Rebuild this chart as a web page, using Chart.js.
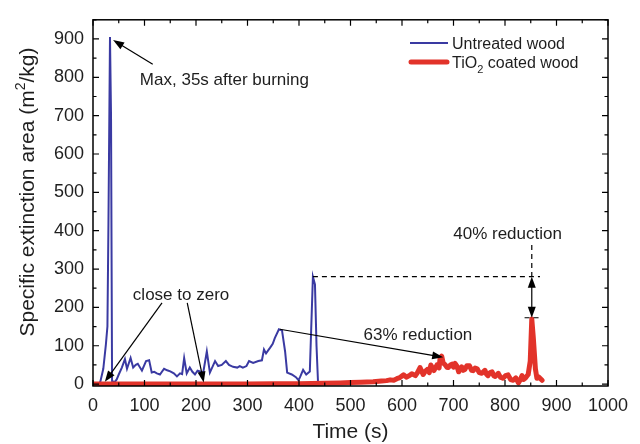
<!DOCTYPE html>
<html><head><meta charset="utf-8">
<script src="https://cdn.jsdelivr.net/npm/chart.js@4.4.1/dist/chart.umd.min.js"></script>
<style>html,body{margin:0;padding:0;background:#fff}canvas{display:block}</style>
</head><body>
<canvas id="c" width="640" height="444"></canvas>
<script>
// ---- data ----
const blueTime = [0,5,10,14,20,25,28,30,33,35,37,42,46,50,56,62,66,73,78,83,87,95,103,109,114,119,124,130,138,144,150,157,163,169,173,177,182,188,193,198,203,208,214,221,227,237,243,250,258,264,272,280,285,291,298,303,311,321,328,332,336,344,349,353,361,367,373,377,386,394,399,402,408,414,421,427,431,434,437,440];
const blueValue = [0,0,1,5,40,103,150,420,905,700,8,5,12,25,43,65,40,68,43,50,53,35,60,62,30,32,28,25,40,36,33,28,20,28,26,68,28,43,32,25,35,33,30,85,30,60,47,50,60,50,45,43,47,43,47,60,55,60,62,90,80,95,105,120,143,140,85,30,25,18,10,18,37,25,33,280,260,100,3,0];
const redTime = [0,50,100,150,200,250,300,350,400,450,480,500,520,544,560,570,577,584,590,596,603,609,614,619,626,630,635,641,645,649,653,656,662,668,672,674,677,680,684,687,690,694,697,700,703,707,710,716,719,722,726,731,735,738,742,746,750,755,761,764,767,771,775,778,781,787,791,796,801,806,811,816,821,826,830,833,836,839,842,845,849,852,855,859,862,866,872];
const redValue = [0,0,0,0,0,0,0,1,1,2,3,4,5,6,8,9,11,10,14,17,24,18,22,27,22,30,43,25,33,38,30,50,35,50,42,68,73,55,50,44,43,50,52,44,54,46,32,45,36,38,48,48,36,35,42,40,30,28,36,26,22,30,32,22,20,28,18,15,22,24,12,10,16,3,12,22,12,15,20,25,60,170,120,40,15,18,10];
const xTickValues = [0,100,200,300,400,500,600,700,800,900,1000];
const yTickValues = [0,100,200,300,400,500,600,700,800,900];
const seriesNames = ['Untreated wood','TiO', '2', ' coated wood'];

const FONT = '"Liberation Sans", Arial, Helvetica, sans-serif';
const TXT = '#1e1e1e';
const BLUE = '#3a3aa2';
const RED = '#e2332a';

function arrowHead(ctx, x1, y1, x2, y2, len, hw) {
  const a = Math.atan2(y2 - y1, x2 - x1);
  ctx.beginPath();
  ctx.moveTo(x2, y2);
  ctx.lineTo(x2 - len*Math.cos(a) + hw*Math.sin(a), y2 - len*Math.sin(a) - hw*Math.cos(a));
  ctx.lineTo(x2 - len*Math.cos(a) - hw*Math.sin(a), y2 - len*Math.sin(a) + hw*Math.cos(a));
  ctx.closePath();
  ctx.fill();
}
function arrow(ctx, x1, y1, x2, y2) {
  const a = Math.atan2(y2 - y1, x2 - x1);
  ctx.beginPath();
  ctx.moveTo(x1, y1);
  ctx.lineTo(x2 - 8*Math.cos(a), y2 - 8*Math.sin(a));
  ctx.stroke();
  arrowHead(ctx, x1, y1, x2, y2, 11, 4);
}

const decor = {
  id: 'decor',
  afterDraw(chart) {
    const ctx = chart.ctx, ca = chart.chartArea;
    const xs = chart.scales.x, ys = chart.scales.y;
    const X = v => xs.getPixelForValue(v), Y = v => ys.getPixelForValue(v);
    ctx.save();
    // frame
    ctx.strokeStyle = '#000'; ctx.lineWidth = 1.5;
    ctx.strokeRect(ca.left, ca.top, ca.right - ca.left, ca.bottom - ca.top);
    // inward ticks
    ctx.lineWidth = 1.2;
    ctx.beginPath();
    for (let v = 0; v <= 1000; v += 50) {
      const L = v % 100 === 0 ? 6 : 3.5, px = X(v);
      ctx.moveTo(px, ca.bottom); ctx.lineTo(px, ca.bottom - L);
      ctx.moveTo(px, ca.top); ctx.lineTo(px, ca.top + L);
    }
    for (let v = 0; v <= 950; v += 50) {
      const L = v % 100 === 0 ? 6 : 3.5, py = Y(v);
      ctx.moveTo(ca.left, py); ctx.lineTo(ca.left + L, py);
      ctx.moveTo(ca.right, py); ctx.lineTo(ca.right - L, py);
    }
    ctx.stroke();

    // axis titles
    ctx.fillStyle = TXT;
    ctx.font = '21px ' + FONT;
    ctx.textAlign = 'center'; ctx.textBaseline = 'middle';
    ctx.fillText('Time (s)', (ca.left + ca.right) / 2, 432);
    // y title with superscript
    ctx.save();
    ctx.translate(27, 192);
    ctx.rotate(-Math.PI / 2);
    const p1 = 'Specific extinction area (m', p2 = '2', p3 = '/kg)';
    ctx.font = '21px ' + FONT; const w1 = ctx.measureText(p1).width, w3 = ctx.measureText(p3).width;
    ctx.font = '14px ' + FONT; const w2 = ctx.measureText(p2).width;
    let x0 = -(w1 + w2 + w3) / 2;
    ctx.textAlign = 'left'; ctx.textBaseline = 'alphabetic';
    ctx.font = '21px ' + FONT; ctx.fillText(p1, x0, 7);
    ctx.font = '14px ' + FONT; ctx.fillText(p2, x0 + w1, -2);
    ctx.font = '21px ' + FONT; ctx.fillText(p3, x0 + w1 + w2, 7);
    ctx.restore();

    // legend
    ctx.lineCap = 'butt';
    ctx.strokeStyle = BLUE; ctx.lineWidth = 2;
    ctx.beginPath(); ctx.moveTo(410, 43); ctx.lineTo(448, 43); ctx.stroke();
    ctx.strokeStyle = RED; ctx.lineWidth = 5; ctx.lineCap = 'round';
    ctx.beginPath(); ctx.moveTo(411, 62); ctx.lineTo(447, 62); ctx.stroke();
    ctx.fillStyle = TXT; ctx.textAlign = 'left'; ctx.textBaseline = 'alphabetic';
    ctx.font = '16px ' + FONT;
    ctx.fillText(seriesNames[0], 452, 49);
    ctx.fillText(seriesNames[1], 452, 68);
    const wt = ctx.measureText(seriesNames[1]).width;
    ctx.font = '11px ' + FONT;
    ctx.fillText(seriesNames[2], 452 + wt, 73);
    const ws = ctx.measureText(seriesNames[2]).width;
    ctx.font = '16px ' + FONT;
    ctx.fillText(seriesNames[3], 452 + wt + ws, 68);

    // annotations
    ctx.fillStyle = '#000'; ctx.strokeStyle = '#000'; ctx.lineWidth = 1.2; ctx.lineCap = 'butt';
    ctx.font = '17px ' + FONT; ctx.fillStyle = TXT;
    ctx.textAlign = 'left'; ctx.textBaseline = 'middle';
    ctx.fillText('Max, 35s after burning', X(91), Y(791));
    ctx.textAlign = 'center';
    ctx.fillText('close to zero', X(171), Y(232));
    ctx.fillText('63% reduction', X(631), Y(128));
    ctx.fillText('40% reduction', X(805), Y(390));
    ctx.fillStyle = '#000';
    arrow(ctx, X(116), Y(834), X(39), Y(897));
    arrow(ctx, X(134), Y(212), X(23), Y(6));
    arrow(ctx, X(183), Y(212), X(215), Y(4));
    arrow(ctx, X(363), Y(143), X(680), Y(70));
    // dashed guide lines
    ctx.setLineDash([5, 4]);
    ctx.beginPath();
    ctx.moveTo(X(427), Y(280)); ctx.lineTo(X(868), Y(280));
    ctx.moveTo(X(852), Y(363)); ctx.lineTo(X(852), Y(280));
    ctx.moveTo(X(838), Y(173)); ctx.lineTo(X(866), Y(173));
    ctx.stroke();
    ctx.setLineDash([]);
    // double arrow
    const ax = X(852);
    ctx.beginPath(); ctx.moveTo(ax, Y(280) + 9); ctx.lineTo(ax, Y(173) - 9); ctx.stroke();
    arrowHead(ctx, ax, Y(230), ax, Y(280), 11, 4);
    arrowHead(ctx, ax, Y(230), ax, Y(173), 11, 4);
    ctx.restore();
  }
};

const toXY = (t, v) => t.map((x, i) => ({x, y: v[i]}));

new Chart(document.getElementById('c'), {
  type: 'line',
  data: {
    datasets: [
      {label: 'TiO2 coated wood', data: toXY(redTime, redValue), borderColor: RED, borderWidth: 5, pointRadius: 0, tension: 0, fill: false, borderJoinStyle: 'round', borderCapStyle: 'round'},
      {label: 'Untreated wood', data: toXY(blueTime, blueValue), borderColor: BLUE, borderWidth: 2, pointRadius: 0, tension: 0, fill: false}
    ]
  },
  options: {
    responsive: false, animation: false, devicePixelRatio: 1,
    layout: {padding: {left: 0, right: 32, top: 7, bottom: 0}},
    plugins: {legend: {display: false}, tooltip: {enabled: false}},
    scales: {
      x: {
        type: 'linear', min: 0, max: 1000,
        afterBuildTicks: s => { s.ticks = xTickValues.map(v => ({value: v})); },
        afterFit: s => { s.height = 58; },
        grid: {display: false, drawTicks: false}, border: {display: false},
        ticks: {font: {family: FONT, size: 18}, color: TXT, padding: 9, maxRotation: 0, autoSkip: false, callback: v => String(v)}
      },
      y: {
        type: 'linear', min: -5, max: 950,
        afterBuildTicks: s => { s.ticks = yTickValues.map(v => ({value: v})); },
        afterFit: s => { s.width = 93; },
        grid: {display: false, drawTicks: false}, border: {display: false},
        ticks: {font: {family: FONT, size: 18}, color: TXT, padding: 9, autoSkip: false, callback: v => String(v)}
      }
    }
  },
  plugins: [decor]
});
</script>
</body></html>
